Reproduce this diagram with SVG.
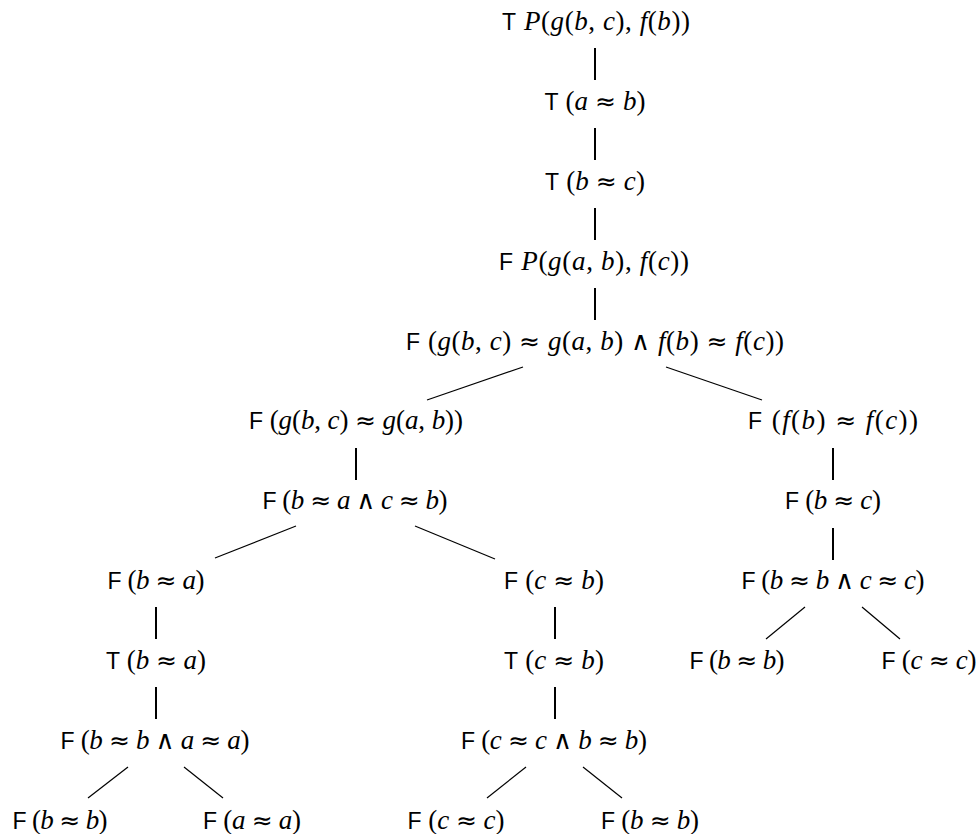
<svg xmlns="http://www.w3.org/2000/svg" width="979" height="834" viewBox="0 0 979 834">
<style>
text{font-family:"Liberation Serif","DejaVu Serif",serif;font-style:italic;font-size:27px;fill:#000;text-anchor:middle}
.s{font-family:"Liberation Sans","DejaVu Sans",sans-serif;font-style:normal;font-size:23px}
.u{font-style:normal}
.o{font-family:"DejaVu Sans",sans-serif;font-style:normal;font-weight:normal;font-size:25px}
.w{font-family:"DejaVu Sans",sans-serif;font-style:normal;font-weight:normal;font-size:26px}
.v{stroke:#000;stroke-width:2;fill:none}
.d{stroke:#000;stroke-width:1.2;fill:none}
</style>
<rect width="979" height="834" fill="#fff"/>
<g id="connectors">
<line class="v" x1="595" y1="48" x2="595" y2="80"/>
<line class="v" x1="595" y1="128" x2="595" y2="160"/>
<line class="v" x1="595" y1="208" x2="595" y2="240"/>
<line class="v" x1="595" y1="288" x2="595" y2="320"/>
<line class="v" x1="356" y1="448" x2="356" y2="480"/>
<line class="v" x1="833" y1="448" x2="833" y2="480"/>
<line class="v" x1="833" y1="528" x2="833" y2="560"/>
<line class="v" x1="156" y1="607" x2="156" y2="639"/>
<line class="v" x1="555" y1="607" x2="555" y2="639"/>
<line class="v" x1="156" y1="687" x2="156" y2="719"/>
<line class="v" x1="555" y1="687" x2="555" y2="719"/>
<line class="d" x1="523" y1="367" x2="427" y2="400"/>
<line class="d" x1="666" y1="367" x2="762" y2="400"/>
<line class="d" x1="296" y1="526" x2="215" y2="558"/>
<line class="d" x1="415" y1="526" x2="495" y2="559"/>
<line class="d" x1="805" y1="607" x2="766" y2="639"/>
<line class="d" x1="862" y1="607" x2="900" y2="639"/>
<line class="d" x1="128" y1="767" x2="88" y2="798"/>
<line class="d" x1="184" y1="767" x2="223" y2="798"/>
<line class="d" x1="526" y1="767" x2="487" y2="798"/>
<line class="d" x1="583" y1="767" x2="622" y2="798"/>
</g>
<g id="n1"><text x="596" y="30" textLength="188" lengthAdjust="spacing"><tspan class="s">T</tspan> P<tspan class="u">(</tspan>g<tspan class="u">(</tspan>b<tspan class="u">,</tspan> c<tspan class="u">),</tspan> f<tspan class="u">(</tspan>b<tspan class="u">))</tspan></text></g>
<g id="n2"><text x="595" y="110" textLength="101" lengthAdjust="spacing"><tspan class="s">T</tspan> <tspan class="u">(</tspan>a <tspan class="o">≈</tspan> b<tspan class="u">)</tspan></text></g>
<g id="n3"><text x="595" y="190" textLength="100" lengthAdjust="spacing"><tspan class="s">T</tspan> <tspan class="u">(</tspan>b <tspan class="o">≈</tspan> c<tspan class="u">)</tspan></text></g>
<g id="n4"><text x="594" y="270" textLength="190" lengthAdjust="spacing"><tspan class="s">F</tspan> P<tspan class="u">(</tspan>g<tspan class="u">(</tspan>a<tspan class="u">,</tspan> b<tspan class="u">),</tspan> f<tspan class="u">(</tspan>c<tspan class="u">))</tspan></text></g>
<g id="n5"><text x="595" y="350" textLength="378" lengthAdjust="spacing"><tspan class="s">F</tspan> <tspan class="u">(</tspan>g<tspan class="u">(</tspan>b<tspan class="u">,</tspan> c<tspan class="u">)</tspan> <tspan class="o">≈</tspan> g<tspan class="u">(</tspan>a<tspan class="u">,</tspan> b<tspan class="u">)</tspan> <tspan class="w">∧</tspan> f<tspan class="u">(</tspan>b<tspan class="u">)</tspan> <tspan class="o">≈</tspan> f<tspan class="u">(</tspan>c<tspan class="u">))</tspan></text></g>
<g id="n6"><text x="356" y="429" textLength="214" lengthAdjust="spacing"><tspan class="s">F</tspan> <tspan class="u">(</tspan>g<tspan class="u">(</tspan>b<tspan class="u">,</tspan> c<tspan class="u">)</tspan> <tspan class="o">≈</tspan> g<tspan class="u">(</tspan>a<tspan class="u">,</tspan> b<tspan class="u">))</tspan></text></g>
<g id="n7"><text x="833" y="429" textLength="170" lengthAdjust="spacing"><tspan class="s">F</tspan> <tspan class="u">(</tspan>f<tspan class="u">(</tspan>b<tspan class="u">)</tspan> <tspan class="o">≈</tspan> f<tspan class="u">(</tspan>c<tspan class="u">))</tspan></text></g>
<g id="n8"><text x="355" y="509" textLength="185" lengthAdjust="spacing"><tspan class="s">F</tspan> <tspan class="u">(</tspan>b <tspan class="o">≈</tspan> a <tspan class="w">∧</tspan> c <tspan class="o">≈</tspan> b<tspan class="u">)</tspan></text></g>
<g id="n9"><text x="833" y="509" textLength="96" lengthAdjust="spacing"><tspan class="s">F</tspan> <tspan class="u">(</tspan>b <tspan class="o">≈</tspan> c<tspan class="u">)</tspan></text></g>
<g id="n10"><text x="156" y="589" textLength="97" lengthAdjust="spacing"><tspan class="s">F</tspan> <tspan class="u">(</tspan>b <tspan class="o">≈</tspan> a<tspan class="u">)</tspan></text></g>
<g id="n11"><text x="554" y="589" textLength="100" lengthAdjust="spacing"><tspan class="s">F</tspan> <tspan class="u">(</tspan>c <tspan class="o">≈</tspan> b<tspan class="u">)</tspan></text></g>
<g id="n12"><text x="833" y="589" textLength="183" lengthAdjust="spacing"><tspan class="s">F</tspan> <tspan class="u">(</tspan>b <tspan class="o">≈</tspan> b <tspan class="w">∧</tspan> c <tspan class="o">≈</tspan> c<tspan class="u">)</tspan></text></g>
<g id="n13"><text x="156" y="669" textLength="100" lengthAdjust="spacing"><tspan class="s">T</tspan> <tspan class="u">(</tspan>b <tspan class="o">≈</tspan> a<tspan class="u">)</tspan></text></g>
<g id="n14"><text x="554" y="669" textLength="100" lengthAdjust="spacing"><tspan class="s">T</tspan> <tspan class="u">(</tspan>c <tspan class="o">≈</tspan> b<tspan class="u">)</tspan></text></g>
<g id="n15"><text x="737" y="669" textLength="95" lengthAdjust="spacing"><tspan class="s">F</tspan> <tspan class="u">(</tspan>b <tspan class="o">≈</tspan> b<tspan class="u">)</tspan></text></g>
<g id="n16"><text x="929" y="669" textLength="95" lengthAdjust="spacing"><tspan class="s">F</tspan> <tspan class="u">(</tspan>c <tspan class="o">≈</tspan> c<tspan class="u">)</tspan></text></g>
<g id="n17"><text x="155" y="749" textLength="189" lengthAdjust="spacing"><tspan class="s">F</tspan> <tspan class="u">(</tspan>b <tspan class="o">≈</tspan> b <tspan class="w">∧</tspan> a <tspan class="o">≈</tspan> a<tspan class="u">)</tspan></text></g>
<g id="n18"><text x="554" y="749" textLength="186" lengthAdjust="spacing"><tspan class="s">F</tspan> <tspan class="u">(</tspan>c <tspan class="o">≈</tspan> c <tspan class="w">∧</tspan> b <tspan class="o">≈</tspan> b<tspan class="u">)</tspan></text></g>
<g id="n19"><text x="60" y="829" textLength="95" lengthAdjust="spacing"><tspan class="s">F</tspan> <tspan class="u">(</tspan>b <tspan class="o">≈</tspan> b<tspan class="u">)</tspan></text></g>
<g id="n20"><text x="252" y="829" textLength="98" lengthAdjust="spacing"><tspan class="s">F</tspan> <tspan class="u">(</tspan>a <tspan class="o">≈</tspan> a<tspan class="u">)</tspan></text></g>
<g id="n21"><text x="456" y="829" textLength="97" lengthAdjust="spacing"><tspan class="s">F</tspan> <tspan class="u">(</tspan>c <tspan class="o">≈</tspan> c<tspan class="u">)</tspan></text></g>
<g id="n22"><text x="650" y="829" textLength="98" lengthAdjust="spacing"><tspan class="s">F</tspan> <tspan class="u">(</tspan>b <tspan class="o">≈</tspan> b<tspan class="u">)</tspan></text></g>
</svg>
